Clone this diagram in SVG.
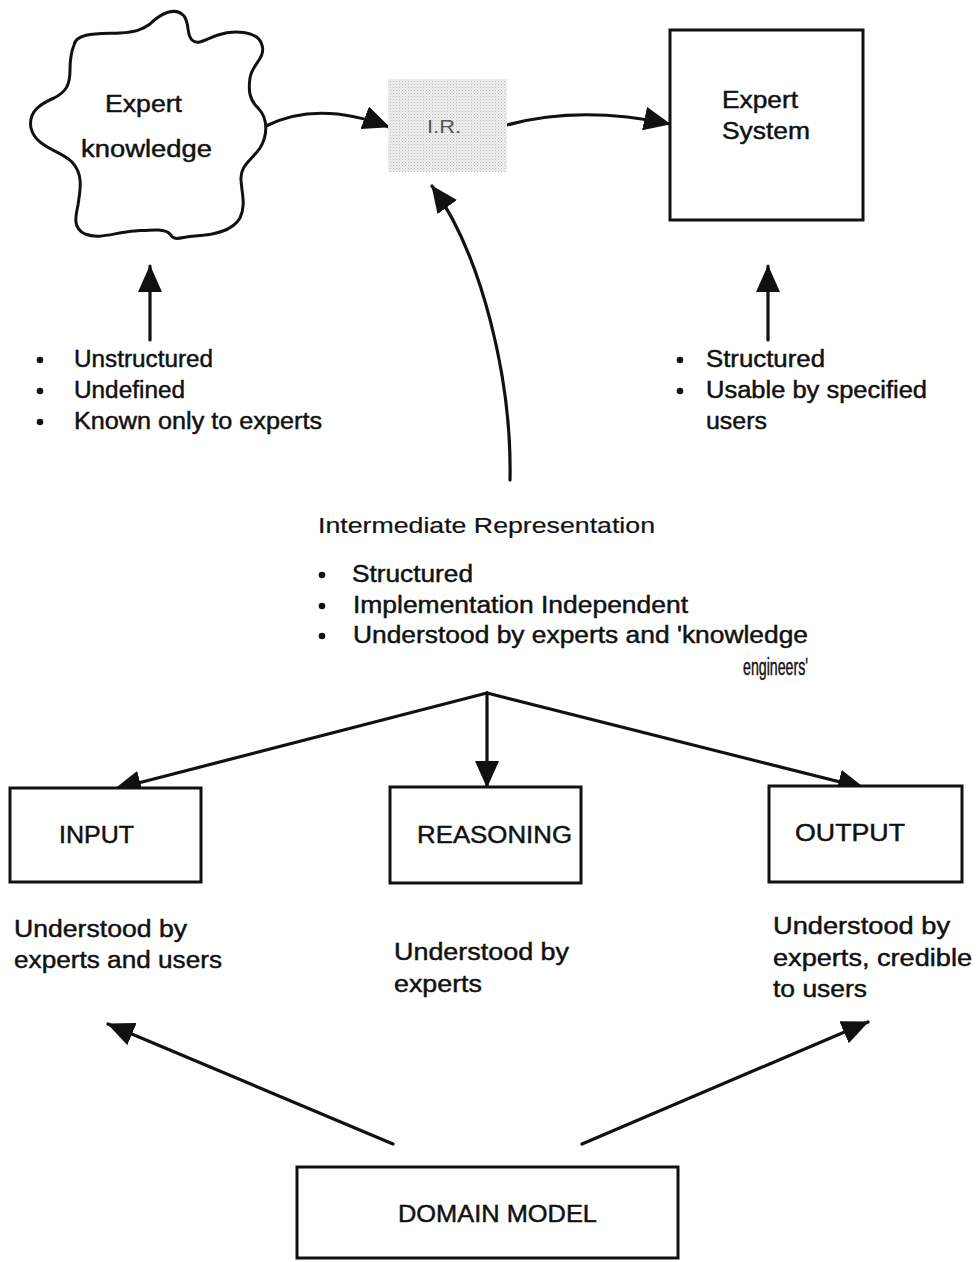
<svg xmlns="http://www.w3.org/2000/svg" width="980" height="1262" viewBox="0 0 980 1262">
  <style>
    .t { font-family: "Liberation Sans", Arial, Helvetica, sans-serif; font-size: 23px; fill: #111; stroke: #111; stroke-width: 0.45; }
    .s { font-size: 22px; stroke-width: 0.2; }
    .ir { font-family: "Liberation Sans", Arial, Helvetica, sans-serif; font-size: 18px; fill: #555; }
    .box { fill: #fff; stroke: #111; stroke-width: 3; }
    .ln { fill: none; stroke: #111; stroke-width: 3.2; stroke-linecap: round; marker-end: url(#head); }
    .dot { fill: #111; }
  </style>
  <defs>
    <marker id="head" markerUnits="userSpaceOnUse" markerWidth="30" markerHeight="26" refX="26" refY="12" orient="auto">
      <path d="M0,0 L27,12 L0,24 Z" fill="#111"/>
    </marker>
    <!-- stippled screen used for the I.R. panel -->
    <pattern id="stipple" width="3" height="3" patternUnits="userSpaceOnUse">
      <rect width="3" height="3" fill="#efefef"/>
      <rect x="0" y="0" width="1" height="1" fill="#bdbdbd"/>
      <rect x="1.5" y="1.5" width="1" height="1" fill="#cfcfcf"/>
    </pattern>
  </defs>

  <rect width="980" height="1262" fill="#fff"/>

  <!-- connectors -->
  <g id="connectors">
    <path class="ln" d="M266,126 Q318,100 389,127"/>
    <path class="ln" d="M507,125 Q580,105 670,124"/>
    <path class="ln" d="M150,340 L150,266"/>
    <path class="ln" d="M768,340 L768,266"/>
    <path class="ln" d="M510,480 C512,380 482,255 432,186"/>
    <path class="ln" d="M487,693 L115,789"/>
    <path class="ln" d="M487,693 L487,787"/>
    <path class="ln" d="M487,693 L864,788"/>
    <path class="ln" d="M393,1144 L108,1024"/>
    <path class="ln" d="M582,1144 L868,1022"/>
  </g>

  <!-- source: wavy blob -->
  <g id="expert-knowledge">
    <path class="box" d="M74,45 C76,32 100,34 120,33 C135,32 142,30 150,24 C160,14 175,6 184,16 C190,24 186,34 192,40 C198,46 208,38 218,35 C232,30 258,30 262,45 C266,58 252,64 250,78 C248,92 250,100 258,108 C268,118 268,135 260,148 C252,160 240,165 241,180 C242,195 246,205 240,218 C232,232 212,235 195,236 C180,237 175,242 170,234 C165,228 150,230 135,231 C115,232 100,240 85,234 C72,228 76,215 78,205 C80,190 84,175 72,162 C60,150 36,148 31,128 C28,112 40,104 54,98 C66,92 70,85 70,70 C70,58 72,50 74,45 Z"/>
    <text class="t" x="105" y="112" textLength="77" lengthAdjust="spacingAndGlyphs">Expert</text>
    <text class="t" x="81" y="157" textLength="131" lengthAdjust="spacingAndGlyphs">knowledge</text>
  </g>

  <g id="ir">
    <rect x="388" y="79" width="119" height="93" fill="url(#stipple)"/>
    <text class="ir" x="427" y="133" textLength="34" lengthAdjust="spacingAndGlyphs">I.R.</text>
  </g>

  <g id="expert-system">
    <rect class="box" x="670" y="30" width="193" height="190"/>
    <text class="t" x="722" y="108" textLength="76" lengthAdjust="spacingAndGlyphs">Expert</text>
    <text class="t" x="722" y="139" textLength="88" lengthAdjust="spacingAndGlyphs">System</text>
  </g>

  <g id="notes-knowledge">
    <circle class="dot" cx="40" cy="360" r="3.3"/>
    <circle class="dot" cx="40" cy="391" r="3.3"/>
    <circle class="dot" cx="40" cy="422" r="3.3"/>
    <text class="t" x="74" y="367" textLength="139" lengthAdjust="spacingAndGlyphs">Unstructured</text>
    <text class="t" x="74" y="398" textLength="111" lengthAdjust="spacingAndGlyphs">Undefined</text>
    <text class="t" x="74" y="429" textLength="248" lengthAdjust="spacingAndGlyphs">Known only to experts</text>
  </g>

  <g id="notes-system">
    <circle class="dot" cx="680" cy="360" r="3.3"/>
    <circle class="dot" cx="680" cy="391" r="3.3"/>
    <text class="t" x="706" y="367" textLength="119" lengthAdjust="spacingAndGlyphs">Structured</text>
    <text class="t" x="706" y="398" textLength="221" lengthAdjust="spacingAndGlyphs">Usable by specified</text>
    <text class="t" x="706" y="429" textLength="61" lengthAdjust="spacingAndGlyphs">users</text>
  </g>

  <g id="notes-ir">
    <text class="t s" x="318" y="533" textLength="337" lengthAdjust="spacingAndGlyphs">Intermediate Representation</text>
    <circle class="dot" cx="322" cy="575" r="3.3"/>
    <circle class="dot" cx="322" cy="606" r="3.3"/>
    <circle class="dot" cx="322" cy="636" r="3.3"/>
    <text class="t" x="352" y="582" textLength="121" lengthAdjust="spacingAndGlyphs">Structured</text>
    <text class="t" x="353" y="613" textLength="335" lengthAdjust="spacingAndGlyphs">Implementation Independent</text>
    <text class="t" x="353" y="643" textLength="455" lengthAdjust="spacingAndGlyphs">Understood by experts and 'knowledge</text>
    <text class="t" x="743" y="675" textLength="65" lengthAdjust="spacingAndGlyphs">engineers'</text>
  </g>

  <g id="input">
    <rect class="box" x="10" y="788" width="191" height="94"/>
    <text class="t" x="59" y="843" textLength="75" lengthAdjust="spacingAndGlyphs">INPUT</text>
  </g>

  <g id="reasoning">
    <rect class="box" x="390" y="787" width="191" height="96"/>
    <text class="t" x="417" y="843" textLength="155" lengthAdjust="spacingAndGlyphs">REASONING</text>
  </g>

  <g id="output">
    <rect class="box" x="769" y="786" width="193" height="96"/>
    <text class="t" x="795" y="841" textLength="110" lengthAdjust="spacingAndGlyphs">OUTPUT</text>
  </g>

  <g id="notes-input">
    <text class="t" x="14" y="937" textLength="173" lengthAdjust="spacingAndGlyphs">Understood by</text>
    <text class="t" x="14" y="968" textLength="208" lengthAdjust="spacingAndGlyphs">experts and users</text>
  </g>

  <g id="notes-reasoning">
    <text class="t" x="394" y="960" textLength="175" lengthAdjust="spacingAndGlyphs">Understood by</text>
    <text class="t" x="394" y="992" textLength="88" lengthAdjust="spacingAndGlyphs">experts</text>
  </g>

  <g id="notes-output">
    <text class="t" x="773" y="934" textLength="177" lengthAdjust="spacingAndGlyphs">Understood by</text>
    <text class="t" x="773" y="966" textLength="199" lengthAdjust="spacingAndGlyphs">experts, credible</text>
    <text class="t" x="773" y="997" textLength="94" lengthAdjust="spacingAndGlyphs">to users</text>
  </g>

  <g id="domain-model">
    <rect class="box" x="297" y="1167" width="381" height="91"/>
    <text class="t" x="398" y="1222" textLength="199" lengthAdjust="spacingAndGlyphs">DOMAIN MODEL</text>
  </g>
</svg>
